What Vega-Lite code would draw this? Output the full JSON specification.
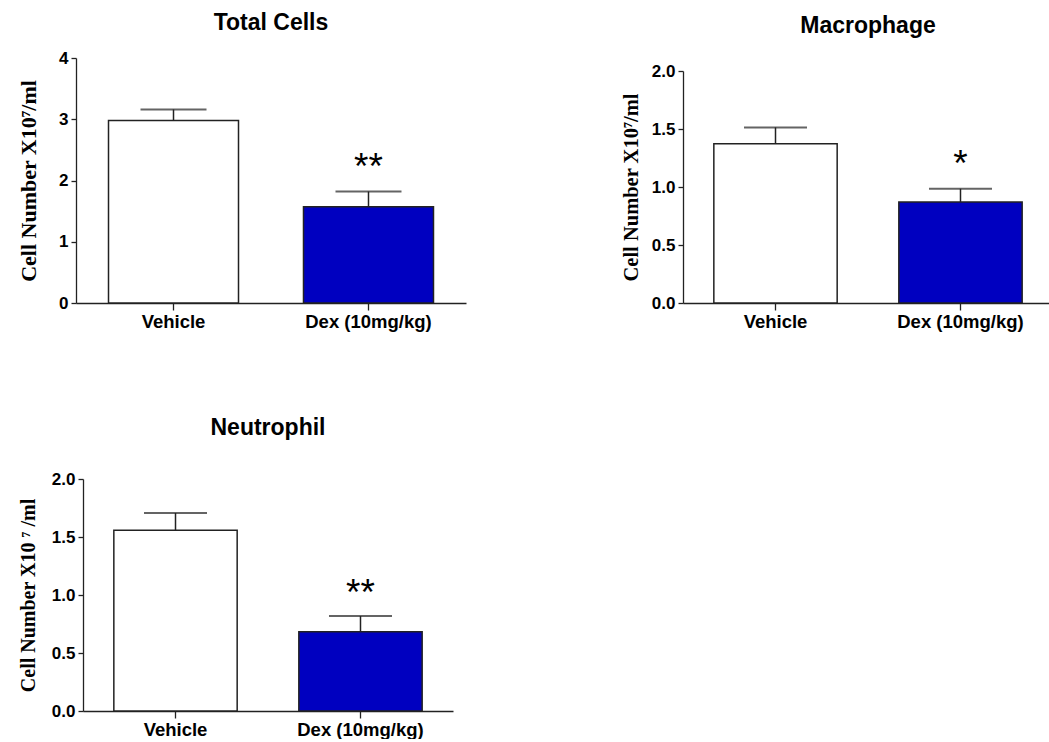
{
  "$schema": "https://vega.github.io/schema/vega-lite/v6.json",
  "padding": {"left": 17, "top": 12, "right": 0, "bottom": 0},
  "background": "white",
  "datasets": {
    "cells": [
      {"panel": "Total Cells", "group": "Vehicle", "mean": 2.98, "upper": 3.16, "sig": ""},
      {"panel": "Total Cells", "group": "Dex (10mg/kg)", "mean": 1.57, "upper": 1.82, "sig": "**"},
      {"panel": "Macrophage", "group": "Vehicle", "mean": 1.373, "upper": 1.514, "sig": ""},
      {"panel": "Macrophage", "group": "Dex (10mg/kg)", "mean": 0.871, "upper": 0.985, "sig": "*"},
      {"panel": "Neutrophil", "group": "Vehicle", "mean": 1.558, "upper": 1.707, "sig": ""},
      {"panel": "Neutrophil", "group": "Dex (10mg/kg)", "mean": 0.684, "upper": 0.819, "sig": "**"}
    ]
  },
  "spacing": 86,
  "vconcat": [
    {
      "spacing": 155,
      "hconcat": [
        {
          "title": {"text": "Total Cells", "fontSize": 23, "offset": 14},
          "width": 390, "height": 245,
          "data": {"name": "cells"},
          "transform": [{"filter": "datum.panel === 'Total Cells'"}],
          "encoding": {
            "x": {"field": "group", "type": "nominal", "sort": ["Vehicle", "Dex (10mg/kg)"],
              "scale": {"paddingInner": 0.3333, "paddingOuter": 0.1667},
              "axis": {"title": null, "labelAngle": 0, "labelFontSize": 18.5, "tickSize": 7, "labelPadding": 2, "domainWidth": 1.3, "tickWidth": 1.3}}
          },
          "layer": [
            {"mark": {"type": "bar", "stroke": "#222", "strokeWidth": 1.5},
             "encoding": {
               "y": {"field": "mean", "type": "quantitative", "scale": {"domain": [0, 4]},
                 "axis": {"values": [0, 1, 2, 3, 4], "format": "d", "labelFontSize": 17, "tickSize": 5, "labelPadding": 3, "domainWidth": 1.3, "tickWidth": 1.3,
                   "title": "Cell Number X10⁷/ml", "titleFont": "Liberation Serif", "titleFontWeight": "bold", "titleFontSize": 22, "titlePadding": 18}},
               "fill": {"field": "group", "type": "nominal", "scale": {"domain": ["Vehicle", "Dex (10mg/kg)"], "range": ["#ffffff", "#0000c0"]}, "legend": null}
             }},
            {"mark": {"type": "rule", "color": "#222", "strokeWidth": 1.5},
             "encoding": {"y": {"field": "mean", "type": "quantitative"}, "y2": {"field": "upper"}}},
            {"mark": {"type": "tick", "color": "#222", "thickness": 2, "size": 66},
             "encoding": {"y": {"field": "upper", "type": "quantitative"}}},
            {"mark": {"type": "text", "fontSize": 37, "dy": -13, "baseline": "alphabetic", "font": "Liberation Sans", "color": "#000"},
             "encoding": {"y": {"field": "upper", "type": "quantitative"}, "text": {"field": "sig"}}}
          ]
        },
        {
          "title": {"text": "Macrophage", "fontSize": 23, "offset": 20},
          "width": 370, "height": 245,
          "data": {"name": "cells"},
          "transform": [{"filter": "datum.panel === 'Macrophage'"}],
          "encoding": {
            "x": {"field": "group", "type": "nominal", "sort": ["Vehicle", "Dex (10mg/kg)"],
              "scale": {"paddingInner": 0.3333, "paddingOuter": 0.1667},
              "axis": {"title": null, "labelAngle": 0, "labelFontSize": 18.5, "tickSize": 7, "labelPadding": 2, "domainWidth": 1.3, "tickWidth": 1.3}}
          },
          "layer": [
            {"mark": {"type": "bar", "stroke": "#222", "strokeWidth": 1.5},
             "encoding": {
               "y": {"field": "mean", "type": "quantitative", "scale": {"domain": [0, 2], "range": [245, 13]},
                 "axis": {"values": [0, 0.5, 1, 1.5, 2], "format": ".1f", "labelFontSize": 17, "tickSize": 5, "labelPadding": 3, "domainWidth": 1.3, "tickWidth": 1.3,
                   "title": "Cell Number X10⁷/ml", "titleFont": "Liberation Serif", "titleFontWeight": "bold", "titleFontSize": 20.5, "titlePadding": 10}},
               "fill": {"field": "group", "type": "nominal", "scale": {"domain": ["Vehicle", "Dex (10mg/kg)"], "range": ["#ffffff", "#0000c0"]}, "legend": null}
             }},
            {"mark": {"type": "rule", "color": "#222", "strokeWidth": 1.5},
             "encoding": {"y": {"field": "mean", "type": "quantitative"}, "y2": {"field": "upper"}}},
            {"mark": {"type": "tick", "color": "#222", "thickness": 2, "size": 63},
             "encoding": {"y": {"field": "upper", "type": "quantitative"}}},
            {"mark": {"type": "text", "fontSize": 37, "dy": -13, "baseline": "alphabetic", "font": "Liberation Sans", "color": "#000"},
             "encoding": {"y": {"field": "upper", "type": "quantitative"}, "text": {"field": "sig"}}}
          ]
        }
      ]
    },
    {
      "title": {"text": "Neutrophil", "fontSize": 23, "offset": 30},
      "width": 384, "height": 232,
      "data": {"name": "cells"},
      "transform": [{"filter": "datum.panel === 'Neutrophil'"}],
      "encoding": {
        "x": {"field": "group", "type": "nominal", "sort": ["Vehicle", "Dex (10mg/kg)"],
          "scale": {"paddingInner": 0.3333, "paddingOuter": 0.1667, "range": [7, 377]},
          "axis": {"title": null, "labelAngle": 0, "labelFontSize": 18.5, "tickSize": 7, "labelPadding": 2, "domainWidth": 1.3, "tickWidth": 1.3}}
      },
      "layer": [
        {"mark": {"type": "bar", "stroke": "#222", "strokeWidth": 1.5},
         "encoding": {
           "y": {"field": "mean", "type": "quantitative", "scale": {"domain": [0, 2]},
             "axis": {"values": [0, 0.5, 1, 1.5, 2], "format": ".1f", "offset": -7, "labelFontSize": 17, "tickSize": 5, "labelPadding": 3, "domainWidth": 1.3, "tickWidth": 1.3,
               "title": "Cell Number X10 ⁷ /ml", "titleFont": "Liberation Serif", "titleFontWeight": "bold", "titleFontSize": 20, "titlePadding": 13}},
           "fill": {"field": "group", "type": "nominal", "scale": {"domain": ["Vehicle", "Dex (10mg/kg)"], "range": ["#ffffff", "#0000c0"]}, "legend": null}
         }},
        {"mark": {"type": "rule", "color": "#222", "strokeWidth": 1.5},
         "encoding": {"y": {"field": "mean", "type": "quantitative"}, "y2": {"field": "upper"}}},
        {"mark": {"type": "tick", "color": "#222", "thickness": 2, "size": 63},
         "encoding": {"y": {"field": "upper", "type": "quantitative"}}},
        {"mark": {"type": "text", "fontSize": 37, "dy": -11, "baseline": "alphabetic", "font": "Liberation Sans", "color": "#000"},
         "encoding": {"y": {"field": "upper", "type": "quantitative"}, "text": {"field": "sig"}}}
      ]
    }
  ],
  "config": {
    "view": {"stroke": null},
    "axis": {"domainColor": "#222", "tickColor": "#222", "labelColor": "#000", "labelFont": "Liberation Sans", "labelFontWeight": "bold", "grid": false, "titleColor": "#000"},
    "title": {"font": "Liberation Sans", "fontWeight": "bold", "color": "#000", "anchor": "middle"}
  }
}
